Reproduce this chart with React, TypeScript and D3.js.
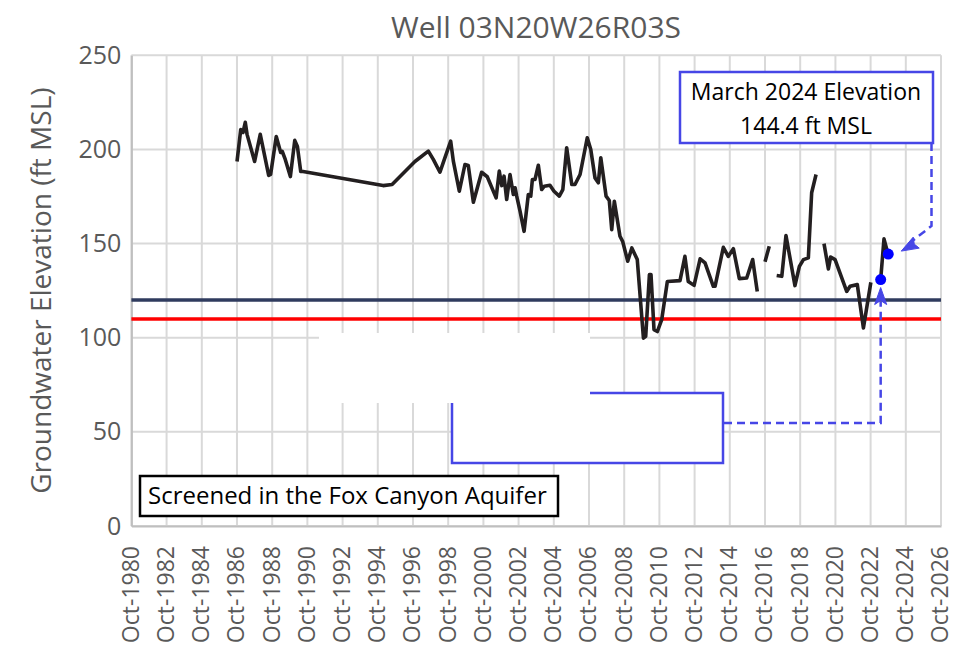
import { useRef, useEffect } from 'react'
import * as d3 from 'd3'

// water level readings, decimal year + elevation (ft MSL); null = gap in record
const years = [
  1986.75, 1986.96, 1987.09, 1987.22, 1987.32, 1987.75, 1988.07, 1988.55, 1988.66, 1988.98,
  1989.23, 1989.32, 1989.49, 1989.78, 1990.03, 1990.18, 1990.37, 1990.5, 1995.05, 1995.56,
  1996.86, 1997.62, 1997.9, 1998.28, 1998.47, 1998.89, 1999.04, 1999.38, 1999.7, 1999.89,
  2000.18, 2000.65, 2000.97, 2001.47, 2001.65, 2001.79, 2001.92, 2002.07, 2002.26, 2002.45,
  2002.55, 2002.64, 2002.83, 2003.06, 2003.3, 2003.44, 2003.53, 2003.68, 2003.87, 2004.06,
  2004.21, 2004.53, 2004.76, 2005.06, 2005.26, 2005.48, 2005.77, 2005.95, 2006.24, 2006.65,
  2006.85, 2007.09, 2007.28, 2007.42, 2007.72, 2007.9, 2008.04, 2008.19, 2008.51, 2008.66,
  2008.95, 2009.18, 2009.49, 2009.84, 2009.97, 2010.18, 2010.27, 2010.44, 2010.63, 2010.88,
  2011.2, 2011.92, 2012.2, 2012.39, 2012.72, 2013.06, 2013.34, 2013.81, 2013.91, 2014.38,
  2014.66, 2014.95, 2015.29, 2015.71, 2016.05, 2016.31, 2016.5,
  2016.75, 2016.99, 2017.2,
  2017.41, 2017.7, 2017.94, 2018.45, 2018.7, 2018.93, 2019.21, 2019.4, 2019.65, 2019.9,
  2020.1, 2020.35, 2020.48, 2020.73, 2021.39, 2021.58, 2021.99, 2022.34, 2022.76, 2023.0,
  2023.32, 2023.51, 2023.62, 2023.75,
]
const levels = [
  193.6, 210.6, 209.0, 214.4, 208.0, 193.6, 208.0, 186.2, 186.7, 206.9,
  198.4, 198.9, 194.7, 185.6, 204.8, 201.6, 188.3, 188.3, 180.8, 181.4,
  193.6, 199.1, 194.7, 187.9, 193.1, 204.4, 193.8, 177.8, 192.0, 191.5,
  172.0, 187.9, 185.5, 174.3, 188.5, 180.8, 185.8, 173.4, 186.7, 176.1,
  179.6, 175.2, 167.2, 156.5, 176.1, 175.2, 184.0, 184.0, 191.6, 178.7,
  180.5, 181.0, 177.8, 175.2, 178.7, 200.9, 181.4, 181.4, 186.7, 206.2,
  200.0, 184.9, 182.3, 195.6, 175.2, 172.9, 157.4, 172.5, 153.9, 151.2,
  140.6, 147.7, 141.5, 99.8, 100.7, 133.5, 133.5, 104.3, 103.3, 109.6,
  129.9, 130.3, 143.2, 129.9, 127.8, 141.9, 139.7, 127.3, 127.3, 148.0,
  143.2, 147.3, 131.4, 131.7, 141.5, 124.6, null,
  140.4, 148.6, null,
  133.0, 132.6, 154.3, 127.7, 137.9, 141.5, 142.4, 177.0, 186.7, null,
  150.0, 136.5, 142.9, 141.5, 124.6, 127.3, 128.2, 105.2, 129.4, null,
  130.9, 152.5, 148.6, 144.1,
]

// highlighted readings (blue dots)
const markYears = [2023.32, 2023.75]
const markLevels = [130.9, 144.4]

const refLevels = [120, 110]
const refColors = ['#2f3b5e', '#ff0000']

const yTicks = [0, 50, 100, 150, 200, 250]
const xTickYears = d3.range(1980, 2027, 2)

const title = 'Well 03N20W26R03S'
const yTitle = 'Groundwater Elevation (ft MSL)'
const noteLines = ['March 2024 Elevation', '144.4 ft MSL']
const aquiferNote = 'Screened in the Fox Canyon Aquifer'

const toDate = (t: number) => {
  const y = Math.floor(t)
  return new Date(y, 0, 1 + Math.round((t - y) * 365.25))
}

function App() {
  const svgRef = useRef<SVGSVGElement>(null)

  useEffect(() => {
    document.body.style.margin = '0'
    const w = 954
    const h = 648
    const font = '"Open Sans", sans-serif'
    const grey = '#595959'
    const blue = '#4646e6'

    const svg = d3.select(svgRef.current)
      .attr('width', w)
      .attr('height', h)
      .style('display', 'block')
      .style('background', '#fff')
    svg.selectAll('*').remove()

    const x = d3.scaleTime()
      .domain([new Date(1980, 9, 1), new Date(2026, 9, 1)])
      .range([131.4, 941])
    const y = d3.scaleLinear()
      .domain([0, 250])
      .range([526, 55.3])

    const xTicks = xTickYears.map(yr => new Date(yr, 9, 1))
    const fmt = d3.timeFormat('%b-%Y')

    // gridlines
    const grid = svg.append('g').attr('stroke', '#d9d9d9').attr('stroke-width', 2)
    grid.selectAll('line.gy').data(yTicks).join('line')
      .attr('class', 'gy')
      .attr('x1', x.range()[0]).attr('x2', x.range()[1])
      .attr('y1', d => y(d)).attr('y2', d => y(d))
    grid.selectAll('line.gx').data(xTicks).join('line')
      .attr('class', 'gx')
      .attr('x1', d => x(d)).attr('x2', d => x(d))
      .attr('y1', y(0)).attr('y2', y(250))

    // y axis
    const yAxis = d3.axisLeft(y).tickValues(yTicks).tickSize(0).tickPadding(10)
    const gy = svg.append('g').attr('transform', `translate(${x.range()[0]},0)`).call(yAxis)
    gy.select('.domain').attr('stroke', '#bfbfbf').attr('stroke-width', 2)
    gy.selectAll('text').attr('font-family', font).attr('font-size', 25).attr('fill', grey)

    // x axis, rotated labels
    const xAxis = d3.axisBottom(x).tickValues(xTicks).tickSize(0).tickFormat(d => fmt(d as Date))
    const gx = svg.append('g').attr('transform', `translate(0,${y(0)})`).call(xAxis)
    gx.select('.domain').attr('stroke', '#bfbfbf').attr('stroke-width', 2)
    gx.selectAll('text')
      .attr('font-family', font).attr('font-size', 23).attr('fill', grey)
      .attr('text-anchor', 'end')
      .attr('transform', 'rotate(-90)')
      .attr('x', -20).attr('y', 0).attr('dy', '0.3em')

    // reference levels
    svg.selectAll('line.ref').data(refLevels).join('line')
      .attr('class', 'ref')
      .attr('x1', x.range()[0]).attr('x2', x.range()[1])
      .attr('y1', d => y(d)).attr('y2', d => y(d))
      .attr('stroke', (d, i) => refColors[i]).attr('stroke-width', 3.5)

    // hydrograph
    const pts = years.map((t, i) => ({ t: toDate(t), v: levels[i] }))
    const line = d3.line<{ t: Date; v: number | null }>()
      .defined(d => d.v !== null)
      .x(d => x(d.t))
      .y(d => y(d.v as number))
    svg.append('path').datum(pts)
      .attr('d', line)
      .attr('fill', 'none').attr('stroke', '#231f20').attr('stroke-width', 3.6)
      .attr('stroke-linejoin', 'round')

    // blanked-out callout area
    svg.append('rect').attr('x', 452).attr('y', 393).attr('width', 271).attr('height', 70)
      .attr('fill', '#fff').attr('stroke', blue).attr('stroke-width', 2.5)
    svg.append('rect').attr('x', 319).attr('y', 333).attr('width', 271).attr('height', 70)
      .attr('fill', '#fff')

    // callout leader lines
    const mx0 = x(toDate(markYears[0]))
    const my0 = y(markLevels[0])
    const mx1 = x(toDate(markYears[1]))
    const my1 = y(markLevels[1])
    svg.append('path')
      .attr('d', `M724,423 H${mx0} V${my0 + 22}`)
      .attr('fill', 'none').attr('stroke', blue).attr('stroke-width', 2.5)
      .attr('stroke-dasharray', '8,5')
    svg.append('path')
      .attr('d', `M${mx0},${my0 + 8} l-6,17 l6,-4 l6,4 z`)
      .attr('fill', blue).attr('stroke', blue).attr('stroke-width', 1)
    svg.append('path')
      .attr('d', `M931.5,143 V226 L${mx1 + 20},${my1 - 10}`)
      .attr('fill', 'none').attr('stroke', blue).attr('stroke-width', 2.5)
      .attr('stroke-dasharray', '8,5')
    svg.append('path')
      .attr('d', `M${mx1 + 13},${my1 - 3} l18,-3 l-5,-4 l-1,-7 z`)
      .attr('fill', blue).attr('stroke', blue).attr('stroke-width', 1)

    // highlighted points
    svg.selectAll('circle.mark').data(markYears).join('circle')
      .attr('class', 'mark')
      .attr('cx', d => x(toDate(d)))
      .attr('cy', (d, i) => y(markLevels[i]))
      .attr('r', 5.5).attr('fill', '#0000ff')

    // annotation box
    svg.append('rect').attr('x', 680).attr('y', 72).attr('width', 253).attr('height', 71)
      .attr('fill', '#fff').attr('stroke', blue).attr('stroke-width', 2.5)
    svg.append('g').selectAll('text').data(noteLines).join('text')
      .attr('x', 806).attr('y', (d, i) => 100 + i * 34)
      .attr('text-anchor', 'middle')
      .attr('font-family', font).attr('font-size', 23).attr('fill', '#000')
      .text(d => d)

    // aquifer note
    svg.append('rect').attr('x', 140).attr('y', 476).attr('width', 418).attr('height', 40)
      .attr('fill', '#fff').attr('stroke', '#000').attr('stroke-width', 2.5)
    svg.append('text').attr('x', 148).attr('y', 504)
      .attr('font-family', font).attr('font-size', 24).attr('fill', '#000')
      .text(aquiferNote)

    // titles
    svg.append('text').attr('x', 536).attr('y', 38)
      .attr('text-anchor', 'middle')
      .attr('font-family', font).attr('font-size', 30).attr('fill', grey)
      .text(title)
    svg.append('text')
      .attr('transform', `translate(51,${y(125)}) rotate(-90)`)
      .attr('text-anchor', 'middle')
      .attr('font-family', font).attr('font-size', 28).attr('fill', grey)
      .text(yTitle)
  }, [])

  return <svg ref={svgRef}></svg>
}

export default App
